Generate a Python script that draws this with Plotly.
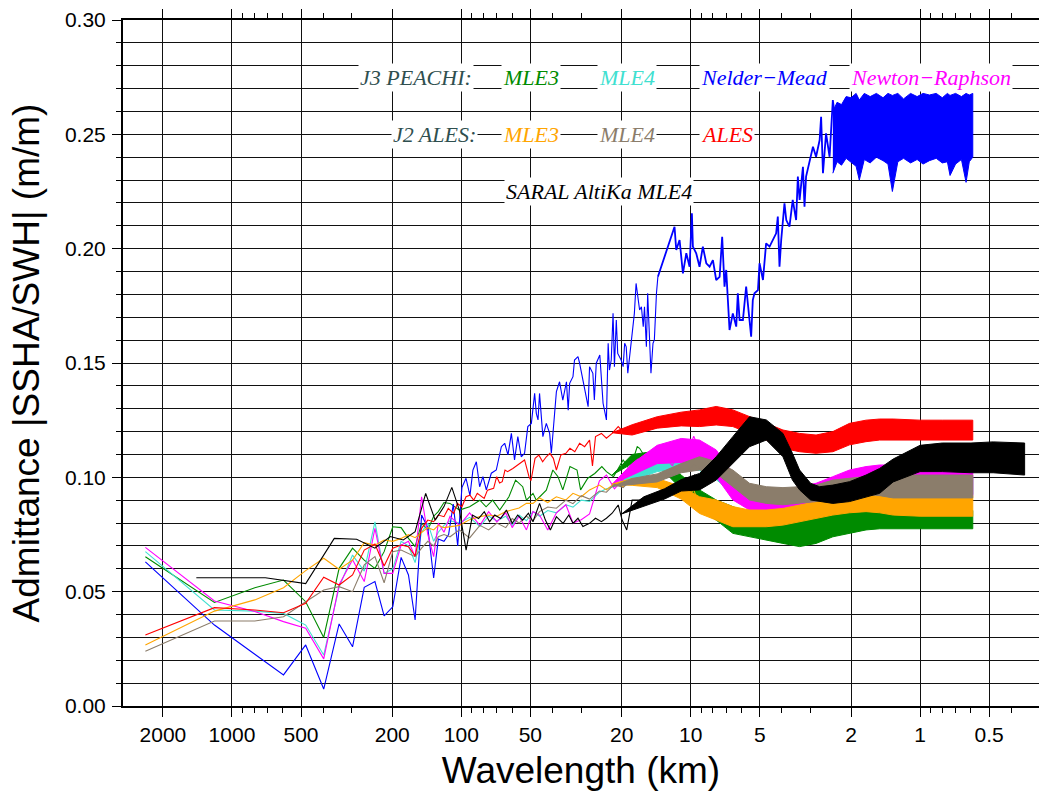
import plotly.graph_objects as go

# ---------------- data ----------------
# Jason (J3 / J2) spectral wavelengths (km), first 20 estimates
W_J = [2385, 1192, 795, 596, 477, 398, 341, 298, 265, 238, 217, 199, 183, 170, 159, 149, 140, 132, 126, 119]
# SARAL AltiKa spectral wavelengths (km), first 20 estimates
W_S = [1430, 715, 477, 358, 286, 238, 204, 179, 159, 143, 130, 119, 110, 102, 95.3, 89.4, 84.1, 79.4, 75.3, 71.5]

# mid-range wavelengths (km)
MID_W = [112, 102, 92, 83, 76, 70, 64, 60, 56, 52, 48.7, 45.6, 42, 38.5, 35, 32.6, 30, 27.6, 25, 23.3,
         21.5, 19.7, 18.4, 17, 15.5, 14.1, 13, 12, 11.2, 10.4, 9.7, 9.15]
# short-wavelength envelope wavelengths (km)
BAND_W = [22, 18, 14, 11, 9.15, 7.74, 6.55, 5.54, 4.68, 3.96, 3.35, 2.84, 2.40, 2.03, 1.72, 1.50, 1.31, 1.0, 0.8, 0.673, 0.589]

# J3 PEACHI MLE3 (green)
GREEN_SP = [0.0653, 0.0453, 0.0517, 0.0551, 0.0456, 0.0300, 0.0602, 0.0690, 0.0638, 0.0602,
            0.0675, 0.0784, 0.0780, 0.0733, 0.0697, 0.0800, 0.0770, 0.0830, 0.0850, 0.0890]
GREEN_MID_W = [112, 102, 92, 83, 78, 73, 68, 62, 58, 54, 52, 48.7, 47.1, 44.1, 42.6, 39.9, 37.9, 36.1, 33.6, 31.3,
               30.2, 28.1, 26.2, 24.4, 23.3, 21.7, 19.7, 18.4, 17.1, 16.7, 15.5, 14.6, 13.6, 12.7, 12.0, 11.2, 10.4, 9.7, 9.15]
GREEN_MID_V = [0.0886, 0.0857, 0.0871, 0.0900, 0.0871, 0.0900, 0.0857, 0.0915, 0.0988, 0.0959,
               0.0900, 0.0930, 0.0900, 0.0930, 0.0944, 0.1032, 0.1003, 0.0945, 0.1047, 0.1032,
               0.0945, 0.0996, 0.1017, 0.1047, 0.1025, 0.1003, 0.1076, 0.1032, 0.1134, 0.1127,
               0.1076, 0.1112, 0.1090, 0.1032, 0.1017, 0.0974, 0.0988, 0.0945, 0.0930]
GREEN_UP = [0.1010, 0.1100, 0.1115, 0.1010, 0.0945, 0.0901, 0.0872, 0.0842, 0.0828, 0.0813, 0.0813, 0.0828, 0.0842, 0.0857, 0.0865, 0.0865, 0.0860, 0.0855, 0.0855, 0.0855, 0.0855]
GREEN_LO = [0.1010, 0.1060, 0.1055, 0.0950, 0.0857, 0.0813, 0.0755, 0.0740, 0.0726, 0.0711, 0.0697, 0.0711, 0.0740, 0.0755, 0.0770, 0.0775, 0.0775, 0.0775, 0.0775, 0.0775, 0.0775]

# J3 PEACHI MLE4 (turquoise)
TURQ_SP = [0.0675, 0.0420, 0.0415, 0.0405, 0.0354, 0.0223, 0.0520, 0.0660, 0.0590, 0.0805,
           0.0580, 0.0600, 0.0720, 0.0700, 0.0627, 0.0760, 0.0800, 0.0720, 0.0760, 0.0790]
TURQ_MID = [0.081, 0.080, 0.0825, 0.0785, 0.083, 0.081, 0.083, 0.079, 0.0835, 0.081,
            0.085, 0.083, 0.0855, 0.0845, 0.088, 0.087, 0.090, 0.0895, 0.0935, 0.095,
            0.096, 0.0985, 0.100, 0.101, 0.103, 0.105, 0.104, 0.107, 0.106, 0.108, 0.107, 0.1075]
TURQ_UP = [0.0960, 0.1015, 0.1070, 0.1090, 0.1100, 0.1070, 0.1010, 0.0965, 0.0950, 0.0945, 0.0950, 0.0960, 0.0980, 0.0985, 0.0995, 0.1000, 0.1000, 0.1000, 0.1000, 0.1000, 0.1000]
TURQ_LO = [0.0960, 0.0985, 0.1025, 0.1040, 0.1030, 0.0990, 0.0930, 0.0885, 0.0875, 0.0870, 0.0875, 0.0885, 0.0905, 0.0915, 0.0920, 0.0925, 0.0925, 0.0925, 0.0925, 0.0925, 0.0925]

# J3 PEACHI Nelder-Mead (blue)
BLUE_SP_W = W_J + [113.6, 108.4, 103.7, 99.4, 95.4, 91.7]
BLUE_SP = [0.0630, 0.0354, 0.0226, 0.0136, 0.0267, 0.0074, 0.0359, 0.0259, 0.0519, 0.0544,
           0.0394, 0.0434, 0.0650, 0.0573, 0.0376, 0.0835, 0.0780, 0.0560, 0.0730, 0.0720,
           0.0750, 0.0883, 0.0700, 0.0955, 0.0996, 0.0920]
BLUE_MID_W = [89.0, 86.0, 83.2, 80.5, 77.8, 74.0, 70.4, 66.9, 64.7, 62.6, 60.5, 58.6, 56.7, 54.8, 53.0,
              51.3, 49.5, 47.9, 47.1, 46.3, 45.6, 44.1, 42.6, 41.2, 40.5, 39.9, 39.2, 38.5, 37.3, 36.1,
              34.8, 34.2, 33.7, 32.6, 32.1, 31.0, 30.5, 29.5, 28.0, 27.6, 26.7, 26.3, 25.8, 24.9, 24.1,
              23.3, 22.9, 22.6, 22.2, 21.8, 21.5, 21.1, 20.8, 20.1, 19.7, 19.4, 19.1, 18.8, 18.2, 17.9,
              17.6, 17.3, 17.0, 16.7, 16.4, 16.1, 15.9, 15.6, 15.4, 15.1, 14.9, 14.6, 14.4, 14.1, 13.9]
BLUE_MID_V = [0.1032, 0.1068, 0.0959, 0.1003, 0.0945, 0.1018, 0.1032, 0.1134, 0.1149, 0.1098,
              0.1192, 0.1076, 0.1178, 0.1090, 0.1105, 0.1222, 0.1236, 0.1367, 0.1280, 0.1251,
              0.1367, 0.1178, 0.1236, 0.1192, 0.1105, 0.1192, 0.1309, 0.1375, 0.1418, 0.1338,
              0.1418, 0.1294, 0.1411, 0.1440, 0.1513, 0.1528, 0.1499, 0.1426, 0.1309, 0.1484,
              0.1455, 0.1338, 0.1499, 0.1535, 0.1324, 0.1251, 0.1586, 0.1469, 0.1513, 0.1717,
              0.1484, 0.1688, 0.1542, 0.1513, 0.1484, 0.1586, 0.1571, 0.1455, 0.1586, 0.1659,
              0.1717, 0.1848, 0.1775, 0.1732, 0.1746, 0.1659, 0.1746, 0.1571, 0.1805, 0.1601,
              0.1455, 0.1586, 0.1601, 0.1805, 0.1877]
BLUE_D_W = [13.9, 11.76, 11.56, 11.18, 10.81, 10.45, 10.11, 9.88, 9.78, 9.46, 9.15, 8.85, 8.55, 8.27, 8.0, 7.74,
            7.48, 7.29, 7.12, 7.0, 6.77, 6.55, 6.33, 6.23, 6.12, 5.92, 5.73, 5.54, 5.45, 5.36, 5.27,
            5.09, 5.01, 4.84, 4.69, 4.53, 4.38, 4.24, 4.17, 4.10, 4.03, 3.90, 3.83, 3.71, 3.59, 3.47,
            3.41, 3.35, 3.24, 3.19, 3.14, 3.03, 2.93, 2.84, 2.74, 2.70, 2.65, 2.57, 2.48, 2.40, 2.32]
BLUE_D_V = [0.1877, 0.2096, 0.1994, 0.2038, 0.1892, 0.1980, 0.1921, 0.2155, 0.2009, 0.1980, 0.1921,
            0.2009, 0.1936, 0.1921, 0.1950, 0.1863, 0.1877, 0.2052, 0.1834, 0.1907, 0.1644,
            0.1717, 0.1659, 0.1805, 0.1688, 0.1688, 0.1834, 0.1703, 0.1615, 0.1775, 0.1805,
            0.1819, 0.1936, 0.1863, 0.2023, 0.2009, 0.2038, 0.2067, 0.2140, 0.1921, 0.2038,
            0.2198, 0.2125, 0.2096, 0.2213, 0.2125, 0.2315, 0.2213, 0.2358, 0.2184, 0.2315,
            0.2388, 0.2446, 0.2402, 0.2475, 0.2577, 0.2330, 0.2504, 0.2402, 0.2650, 0.2533]
BLUE_BAND_W = [2.40, 2.30, 2.20, 2.10, 2.00, 1.90, 1.84, 1.75, 1.65, 1.55, 1.45, 1.38, 1.32, 1.25,
               1.18, 1.10, 1.03, 0.97, 0.91, 0.85, 0.80, 0.76, 0.74, 0.70, 0.66, 0.63, 0.61, 0.589]
BLUE_UP = [0.2600, 0.2640, 0.2630, 0.2665, 0.2660, 0.2679, 0.2650, 0.2679, 0.2665, 0.2679,
           0.2660, 0.2679, 0.2670, 0.2679, 0.2655, 0.2679, 0.2665, 0.2679, 0.2672, 0.2679,
           0.2660, 0.2679, 0.2670, 0.2679, 0.2665, 0.2679, 0.2672, 0.2679]
BLUE_LO = [0.2330, 0.2380, 0.2365, 0.2395, 0.2380, 0.2360, 0.2300, 0.2390, 0.2375, 0.2400,
           0.2385, 0.2370, 0.2250, 0.2380, 0.2395, 0.2375, 0.2390, 0.2370, 0.2385, 0.2395,
           0.2375, 0.2380, 0.2320, 0.2370, 0.2390, 0.2290, 0.2380, 0.2400]

# J3 PEACHI Newton-Raphson (magenta)
MAG_SP = [0.0694, 0.0459, 0.0413, 0.0369, 0.0340, 0.0206, 0.0530, 0.0640, 0.0544, 0.0777,
          0.0580, 0.0580, 0.0704, 0.0720, 0.0653, 0.0915, 0.0750, 0.0653, 0.0800, 0.0760]
MAG_MID = [0.083, 0.079, 0.0845, 0.079, 0.085, 0.0805, 0.0845, 0.078, 0.083, 0.077,
           0.085, 0.0835, 0.077, 0.0845, 0.088, 0.080, 0.0815, 0.084, 0.0985, 0.101,
           0.095, 0.099, 0.105, 0.108, 0.106, 0.112, 0.109, 0.105, 0.114, 0.109, 0.118, 0.112]
MAG_UP = [0.0970, 0.1060, 0.1140, 0.1170, 0.1163, 0.1120, 0.1017, 0.0959, 0.0945, 0.0945, 0.0959, 0.0974, 0.1003, 0.1032, 0.1047, 0.1054, 0.1054, 0.1040, 0.1040, 0.1035, 0.1035]
MAG_LO = [0.0970, 0.1010, 0.1060, 0.1065, 0.1061, 0.1003, 0.0901, 0.0857, 0.0842, 0.0842, 0.0857, 0.0872, 0.0901, 0.0920, 0.0920, 0.0920, 0.0920, 0.0920, 0.0920, 0.0920, 0.0920]

# J2 ALES MLE3 (orange)
ORANGE_SP = [0.0267, 0.0415, 0.0464, 0.0517, 0.0592, 0.0646, 0.0598, 0.0638, 0.0714, 0.0703,
             0.0726, 0.0720, 0.0733, 0.0749, 0.0736, 0.0760, 0.0780, 0.0770, 0.0790, 0.0780]
ORANGE_MID = [0.0785, 0.079, 0.0815, 0.0828, 0.0835, 0.083, 0.085, 0.0857, 0.0866, 0.0886,
              0.0886, 0.091, 0.089, 0.0915, 0.0901, 0.093, 0.0915, 0.0945, 0.0966, 0.0945,
              0.0974, 0.0959, 0.0988, 0.0966, 0.0988, 0.0974, 0.0959, 0.0966, 0.093, 0.0915, 0.0945, 0.088]
ORANGE_UP = [0.0970, 0.0995, 0.0995, 0.0960, 0.0915, 0.0901, 0.0872, 0.0857, 0.0857, 0.0864, 0.0879, 0.0893, 0.0908, 0.0922, 0.0930, 0.0930, 0.0925, 0.0920, 0.0920, 0.0920, 0.0920]
ORANGE_LO = [0.0970, 0.0965, 0.0955, 0.0905, 0.0842, 0.0813, 0.0784, 0.0784, 0.0784, 0.0791, 0.0806, 0.0820, 0.0835, 0.0845, 0.0850, 0.0845, 0.0835, 0.0830, 0.0830, 0.0830, 0.0830]

# J2 ALES MLE4 (grey-brown)
GRAY_SP = [0.0239, 0.0372, 0.0372, 0.0390, 0.0456, 0.0507, 0.0522, 0.0500, 0.0617, 0.0653,
           0.0539, 0.0675, 0.0682, 0.0668, 0.0653, 0.0690, 0.0720, 0.0700, 0.0740, 0.0750]
GRAY_MID = [0.074, 0.077, 0.0735, 0.079, 0.077, 0.080, 0.078, 0.082, 0.080, 0.083,
            0.081, 0.085, 0.087, 0.0865, 0.090, 0.0885, 0.092, 0.0905, 0.094, 0.0935,
            0.097, 0.0955, 0.0985, 0.0975, 0.1005, 0.0995, 0.1025, 0.101, 0.1045, 0.1025, 0.1055, 0.104]
GRAY_UP = [0.0960, 0.0995, 0.1015, 0.1060, 0.1090, 0.1069, 0.1032, 0.0974, 0.0959, 0.0955, 0.0959, 0.0966, 0.0988, 0.0995, 0.1003, 0.1010, 0.1010, 0.1010, 0.1010, 0.1010, 0.1010]
GRAY_LO = [0.0960, 0.0970, 0.0980, 0.1020, 0.1032, 0.1017, 0.0959, 0.0901, 0.0886, 0.0880, 0.0886, 0.0894, 0.0915, 0.0920, 0.0925, 0.0920, 0.0910, 0.0910, 0.0910, 0.0910, 0.0910]

# J2 ALES ALES (red)
RED_SP = [0.0310, 0.0430, 0.0420, 0.0408, 0.0449, 0.0563, 0.0529, 0.0573, 0.0682, 0.0708,
          0.0612, 0.0690, 0.0704, 0.0697, 0.0656, 0.0777, 0.0813, 0.0806, 0.0835, 0.0828]
RED_MID_W = [114, 108, 104, 99.4, 95.4, 91.7, 88.3, 85.2, 79.5, 76.9, 72.3, 70.1, 68.1, 66.3, 64.5,
             62.8, 59.6, 56.8, 54.2, 53.0, 50.7, 49.7, 47.7, 45.9, 44.2, 42.6, 41.1, 39.7, 38.5, 36.8,
             35, 33.6, 32, 30.5, 29, 27.6, 26.8, 26, 24.5, 23.3, 22, 20.7, 19.7, 18.5, 17.4,
             16.7, 15.8, 14.8, 14.1, 13.2, 12.5, 11.7, 11.2, 10.5, 10, 9.5, 9.15]
RED_MID_V = [0.0864, 0.0842, 0.0886, 0.0871, 0.0915, 0.0922, 0.0900, 0.0930, 0.0908, 0.0944,
             0.0952, 0.1003, 0.0975, 0.0981, 0.1032, 0.1025, 0.1039, 0.1054, 0.1068, 0.1076,
             0.1003, 0.0985, 0.1083, 0.1097, 0.1068, 0.1090, 0.1105, 0.1083, 0.1032, 0.1098,
             0.1105, 0.1127, 0.1112, 0.1149, 0.1134, 0.1163, 0.1050, 0.1178, 0.1192, 0.1171,
             0.1192, 0.1222, 0.1200, 0.1207, 0.1222, 0.1207, 0.1236, 0.1222, 0.1243, 0.1236,
             0.1251, 0.1243, 0.1258, 0.1251, 0.1265, 0.1258, 0.1273]
RED_UP = [0.1195, 0.1230, 0.1265, 0.1285, 0.1295, 0.1310, 0.1295, 0.1265, 0.1236, 0.1207, 0.1192, 0.1185, 0.1200, 0.1236, 0.1250, 0.1255, 0.1255, 0.1250, 0.1250, 0.1250, 0.1250]
RED_LO = [0.1195, 0.1185, 0.1215, 0.1225, 0.1222, 0.1229, 0.1222, 0.1192, 0.1163, 0.1127, 0.1112, 0.1105, 0.1112, 0.1142, 0.1156, 0.1163, 0.1163, 0.1163, 0.1163, 0.1163, 0.1163]

# SARAL AltiKa MLE4 (black)
BLACK_SP = [0.0561, 0.0561, 0.0535, 0.0733, 0.0729, 0.0690, 0.0741, 0.0726, 0.0762, 0.0930,
            0.0813, 0.0872, 0.0956, 0.0857, 0.0682, 0.0835, 0.0820, 0.0850, 0.0806, 0.0835]
BLACK_MID_W = [67.4, 63.6, 60, 56.8, 54, 51, 48.7, 45.6, 43, 40.9, 38.5, 36, 34, 32.6, 31, 29.5, 27.6, 26,
               24.5, 23.3, 22, 20.7, 19.9, 19, 18, 16.7, 15.7, 14.8, 14.1, 13.2, 12.5, 12, 11.2, 10.6,
               10.1, 9.6, 9.15]
BLACK_MID_V = [0.0820, 0.0857, 0.0799, 0.0835, 0.0813, 0.0843, 0.0806, 0.0886, 0.0813, 0.0770,
               0.0828, 0.0799, 0.0835, 0.0799, 0.0821, 0.0785, 0.0799, 0.0821, 0.0806, 0.0821,
               0.0843, 0.0879, 0.0813, 0.0770, 0.0901, 0.0901, 0.0915, 0.0893, 0.0930, 0.0945,
               0.0937, 0.0966, 0.0959, 0.0988, 0.0966, 0.1010, 0.0985]
BLACK_BAND_W = [20, 16, 13, 11, 9.15, 7.74, 6.55, 5.54, 4.68, 3.96, 3.6, 3.35, 3.0, 2.74, 2.40, 2.03, 1.72,
                1.50, 1.31, 1.0, 0.8, 0.6, 0.48, 0.35]
BLACK_UP = [0.0840, 0.0915, 0.0950, 0.0990, 0.1017, 0.1090, 0.1178, 0.1265, 0.1251, 0.1192, 0.1105, 0.1032, 0.0974,
            0.0959, 0.0966, 0.0981, 0.1010, 0.1039, 0.1080, 0.1140, 0.1150, 0.1150, 0.1155, 0.1150]
BLACK_LO = [0.0840, 0.0875, 0.0905, 0.0940, 0.0945, 0.0988, 0.1061, 0.1134, 0.1163, 0.1090, 0.0988, 0.0945, 0.0901,
            0.0894, 0.0886, 0.0894, 0.0915, 0.0930, 0.0980, 0.1025, 0.1025, 0.1020, 0.1020, 0.1010]

X_TICKS = [2000, 1000, 500, 200, 100, 50, 20, 10, 5, 2, 1, 0.5]
X_TICKTEXT = ["2000", "1000", "500", "200", "100", "50", "20", "10", "5", "2", "1", "0.5"]
X_MINOR = [3000, 900, 800, 700, 600, 400, 300, 90, 80, 70, 60, 40, 30, 9, 8, 7, 6, 4, 3,
           0.9, 0.8, 0.7, 0.6, 0.4, 0.3]

# ---------------- colours ----------------
C_GREEN = "#008B00"
C_TURQ = "#40E0D0"
C_BLUE = "#0000FF"
C_MAG = "#FF00FF"
C_ORANGE = "#FFA500"
C_GRAY = "#8B7D6B"
C_RED = "#FF0000"
C_BLACK = "#000000"

fig = go.Figure()


def add_line(w, v, color, width=1.1):
    fig.add_trace(go.Scatter(x=w, y=v, mode="lines", line=dict(color=color, width=width),
                             showlegend=False, hoverinfo="skip"))


def add_band(w, up, lo, color):
    fig.add_trace(go.Scatter(x=list(w) + list(w)[::-1], y=list(up) + list(lo)[::-1],
                             mode="lines", fill="toself", fillcolor=color,
                             line=dict(color=color, width=1.0), showlegend=False, hoverinfo="skip"))


# J3 PEACHI
add_band(BAND_W, GREEN_UP, GREEN_LO, C_GREEN)
add_line(W_J + GREEN_MID_W, GREEN_SP + GREEN_MID_V, C_GREEN)
add_band(BAND_W, TURQ_UP, TURQ_LO, C_TURQ)
add_line(W_J + MID_W, TURQ_SP + TURQ_MID, C_TURQ)
add_line(BLUE_SP_W + BLUE_MID_W, BLUE_SP + BLUE_MID_V, C_BLUE)
add_line(BLUE_D_W, BLUE_D_V, C_BLUE, width=1.8)
add_band(BLUE_BAND_W, BLUE_UP, BLUE_LO, C_BLUE)
add_band(BAND_W, MAG_UP, MAG_LO, C_MAG)
add_line(W_J + MID_W, MAG_SP + MAG_MID, C_MAG)
# J2 ALES
add_band(BAND_W, ORANGE_UP, ORANGE_LO, C_ORANGE)
add_line(W_J + MID_W, ORANGE_SP + ORANGE_MID, C_ORANGE)
add_band(BAND_W, GRAY_UP, GRAY_LO, C_GRAY)
add_line(W_J + MID_W, GRAY_SP + GRAY_MID, C_GRAY)
add_band(BAND_W, RED_UP, RED_LO, C_RED)
add_line(W_J + RED_MID_W, RED_SP + RED_MID_V, C_RED)
# SARAL
add_band(BLACK_BAND_W, BLACK_UP, BLACK_LO, C_BLACK)
add_line(W_S + BLACK_MID_W, BLACK_SP + BLACK_MID_V, C_BLACK)

# ---------------- legend-like labels ----------------
SERIF = "Liberation Serif"
labels = [
    ("J3 PEACHI:", 0.3202, 0.9162, "#2F4F4F"),
    ("MLE3", 0.4458, 0.9162, C_GREEN),
    ("MLE4", 0.5506, 0.9162, C_TURQ),
    ("Nelder\u2212Mead", 0.7008, 0.9162, C_BLUE),
    ("Newton\u2212Raphson", 0.8826, 0.9162, C_MAG),
    ("J2 ALES:", 0.3398, 0.8335, "#2F4F4F"),
    ("MLE3", 0.4458, 0.8335, C_ORANGE),
    ("MLE4", 0.5506, 0.8335, C_GRAY),
    ("ALES", 0.6598, 0.8335, C_RED),
    ("SARAL AltiKa MLE4", 0.5195, 0.7493, C_BLACK),
]
for txt, px, py, col in labels:
    fig.add_annotation(text="<i>" + txt + "</i>", x=px, y=py, xref="paper", yref="paper",
                       xanchor="center", yanchor="middle", showarrow=False,
                       font=dict(family=SERIF, size=22, color=col),
                       bgcolor="white", borderpad=1)

SANS = "Liberation Sans"
fig.update_layout(
    width=1039, height=798,
    margin=dict(l=123, r=0, t=20, b=92),
    paper_bgcolor="white", plot_bgcolor="white",
    showlegend=False,
    font=dict(family=SANS, color="black"),
)
fig.update_xaxes(
    type="log", range=[3.475, -0.5186], autorange=False,
    tickmode="array", tickvals=X_TICKS, ticktext=X_TICKTEXT,
    tickfont=dict(family=SANS, size=21, color="black"),
    ticks="outside", ticklen=9, tickwidth=1, tickcolor="black",
    showgrid=True, gridcolor="#111111", gridwidth=1,
    showline=True, linecolor="black", linewidth=2, mirror="ticks",
    zeroline=False,
    minor=dict(tickmode="array", tickvals=X_MINOR, ticks="outside", ticklen=5,
               tickwidth=1, tickcolor="black", showgrid=False),
    title=dict(text="Wavelength (km)", font=dict(family=SANS, size=37, color="black"), standoff=12),
)
fig.update_yaxes(
    range=[0, 0.30], autorange=False,
    tickmode="linear", tick0=0, dtick=0.05, tickformat=".2f",
    tickfont=dict(family=SANS, size=21, color="black"),
    ticks="outside", ticklen=9, tickwidth=1, tickcolor="black",
    ticklabelstandoff=2,
    showgrid=True, gridcolor="#111111", gridwidth=1,
    showline=True, linecolor="black", linewidth=2, mirror=False,
    zeroline=False,
    minor=dict(dtick=0.01, ticks="outside", ticklen=5, tickwidth=1, tickcolor="black",
               showgrid=True, gridcolor="#111111", gridwidth=1),
    title=dict(text="Admittance |SSHA/SWH| (m/m)", font=dict(family=SANS, size=37, color="black"), standoff=14),
)

fig.write_html("out.html")
